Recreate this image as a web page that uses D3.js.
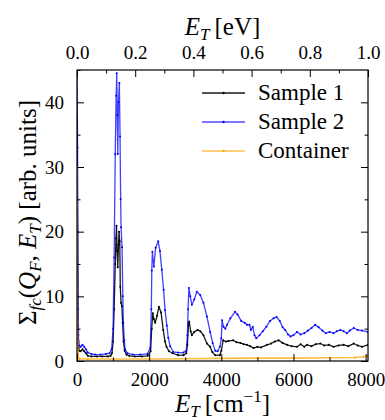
<!DOCTYPE html>
<html>
<head>
<meta charset="utf-8">
<script src="https://cdn.jsdelivr.net/npm/d3@7"></script>
</head>
<body style="margin:0">
<svg id="chart" width="385" height="420" font-family="Liberation Serif" style="display:block;background:#fff">
</svg>
<script>
// values: [E_T in cm^-1, signal]
const sample1 = [
  [0, 38], [8, 30], [15, 20], [25, 10], [35, 4], [45, 2], [60, 1.6], [100, 1.5],
  [150, 1.8], [200, 1.5], [250, 1.2], [300, 0.8], [400, 0.7], [550, 0.7], [700, 0.7],
  [850, 0.7], [930, 0.8], [970, 1.2], [1000, 3], [1030, 8], [1060, 15], [1080, 19],
  [1095, 20.9], [1110, 17], [1130, 14.5], [1150, 18], [1165, 20], [1185, 18.5],
  [1200, 11.5], [1221, 9], [1245, 8.5], [1265, 5.9], [1290, 3], [1320, 1.6],
  [1370, 1.0], [1450, 0.8], [1600, 0.7], [1800, 0.7], [1960, 0.8], [2040, 1.5],
  [2070, 5], [2100, 7.4], [2130, 6.5], [2165, 5.9], [2220, 7.0], [2270, 8.4],
  [2330, 7.5], [2390, 4.8], [2440, 3.0], [2480, 2.2], [2550, 1.5], [2650, 1.2],
  [2800, 0.9], [2950, 0.9], [3030, 1.2], [3060, 2.5], [3090, 5.8], [3110, 6.1],
  [3150, 4.6], [3183, 4.0], [3250, 4.5], [3340, 4.8], [3420, 4.6], [3505, 4.0],
  [3600, 2.7], [3690, 2.2], [3750, 1.4], [3830, 0.9], [3960, 0.9], [4000, 1.6],
  [4050, 3.2], [4130, 3.0], [4200, 3.1], [4330, 3.2], [4420, 2.9], [4530, 2.8],
  [4620, 2.6], [4710, 2.5], [4800, 2.3], [4890, 2.0], [5000, 2.2], [5100, 2.1],
  [5265, 2.5], [5380, 2.7], [5480, 3.0], [5587, 3.2], [5700, 2.8], [5820, 2.5],
  [5950, 2.3], [6098, 2.2], [6200, 2.6], [6300, 2.2], [6375, 2.5], [6500, 2.3],
  [6620, 2.6], [6745, 2.7], [6850, 2.4], [6980, 2.5], [7113, 2.2], [7250, 2.4],
  [7390, 2.5], [7520, 2.3], [7670, 2.7], [7780, 2.4], [7900, 2.2], [8060, 2.5],
];

const sample2 = [
  [0, 46], [8, 40], [15, 33], [25, 20], [35, 8], [45, 3], [60, 2.4], [100, 2.2],
  [150, 2.5], [200, 2.2], [250, 1.8], [300, 1.3], [400, 1.1], [500, 1.0], [650, 1.0],
  [800, 1.1], [900, 1.2], [960, 1.8], [1000, 5], [1030, 16], [1060, 32], [1085, 41],
  [1102, 44.5], [1115, 38], [1130, 32], [1150, 40], [1174, 43], [1193, 34.7],
  [1210, 25], [1221, 20.7], [1249, 17.6], [1270, 10], [1285, 5.9], [1310, 3.2],
  [1332, 1.8], [1400, 1.2], [1550, 1.0], [1750, 1.0], [1950, 1.1], [2030, 2],
  [2060, 8], [2073, 14], [2090, 16.9], [2130, 14.6], [2180, 17.5], [2250, 18.5],
  [2300, 17], [2350, 14.1], [2400, 11], [2440, 7.9], [2490, 5.5], [2530, 3.6],
  [2580, 2.3], [2670, 1.4], [2800, 1.3], [2950, 1.3], [3030, 1.6], [3060, 4],
  [3080, 8], [3100, 11.3], [3140, 10], [3183, 8.7], [3250, 9.5], [3320, 10.7],
  [3414, 10.2], [3505, 9.0], [3600, 6.9], [3690, 4.5], [3760, 2.8], [3830, 1.6],
  [3900, 1.5], [3960, 2.2], [4000, 3.5], [4020, 6.3], [4060, 5.3], [4110, 5.0],
  [4160, 5.6], [4250, 6.6], [4380, 7.6], [4450, 7.2], [4550, 6.2], [4650, 5.9],
  [4710, 5.6], [4780, 5.6], [4820, 4.8], [4870, 5.3], [4920, 4.0], [4970, 3.5],
  [5060, 4.0], [5150, 4.6], [5250, 5.3], [5350, 6.2], [5450, 6.6], [5530, 6.8],
  [5620, 6.2], [5700, 5.2], [5770, 4.8], [5850, 4.1], [5920, 3.8], [6000, 4.0],
  [6098, 4.5], [6200, 4.1], [6300, 4.3], [6400, 4.7], [6500, 5.1], [6600, 5.6],
  [6700, 5.2], [6800, 4.7], [6900, 4.3], [7000, 4.5], [7113, 4.3], [7200, 4.6],
  [7300, 4.8], [7390, 4.6], [7480, 4.3], [7560, 4.7], [7670, 5.1], [7780, 4.8],
  [7900, 4.7], [8060, 4.5],
];

const container = [
  [0, 30], [3, 24], [6, 17], [10, 11], [14, 6], [20, 3], [28, 1.2], [40, 0.5],
  [70, 0.3], [300, 0.3], [1000, 0.3], [2000, 0.3], [3000, 0.35], [4000, 0.4],
  [5000, 0.45], [6000, 0.45], [7000, 0.5], [7700, 0.55], [7950, 0.65], [8060, 0.8],
];

const seriesNames = ['Sample 1', 'Sample 2', 'Container'];
const seriesColors = ['#000000', '#0000ff', '#ffa500'];
const seriesData = [sample1, sample2, container];

const yTicks = [0, 10, 20, 30, 40];
const xTicks = [0, 2000, 4000, 6000, 8000];
const eVTicks = [0, 0.2, 0.4, 0.6, 0.8, 1.0];

const cmPerEV = 8065.54;
const serif = '"Liberation Serif", serif';

// inline and marked important, so no outside rule wins over it
const setFont = (sel, size, italic) => {
  sel.style('font-family', serif, 'important')
      .style('font-size', `${size}px`, 'important');
  if (italic) {
    sel.style('font-style', 'italic', 'important');
  }
  return sel;
};

const plotLeft = 77;
const plotRight = 368;
const plotTop = 70;
const plotBottom = 361;

const svg = d3.select('#chart');

const x = d3.scaleLinear().domain([0, cmPerEV]).range([plotLeft, plotRight]);
const xTop = d3.scaleLinear().domain([0, 1]).range([plotLeft, plotRight]);
const y = d3.scaleLinear().domain([0, 45]).range([plotBottom, plotTop]);

// clip so the spikes at E_T = 0 stay inside the frame
svg.append('defs').append('clipPath')
    .attr('id', 'plotclip')
    .append('rect')
    .attr('x', plotLeft)
    .attr('y', plotTop)
    .attr('width', plotRight - plotLeft)
    .attr('height', plotBottom - plotTop);

const line = d3.line()
    .x((d) => x(d[0]))
    .y((d) => y(d[1]));

const plot = svg.append('g').attr('clip-path', 'url(#plotclip)');

seriesData.forEach((data, i) => {
  const g = plot.append('g');
  g.append('path')
      .datum(data)
      .attr('fill', 'none')
      .attr('stroke', seriesColors[i])
      .attr('stroke-opacity', i === 0 ? 0.9 : 0.75)
      .attr('stroke-width', i === 2 ? 1.6 : 1.3)
      .attr('stroke-linejoin', 'round')
      .attr('d', line);
  g.selectAll('circle')
      .data(data)
      .join('circle')
      .attr('cx', (d) => x(d[0]))
      .attr('cy', (d) => y(d[1]))
      .attr('r', 1)
      .attr('fill', seriesColors[i]);
});

// axes, ticks pointing inward
const addAxis = (axis, tx, ty, cls) => {
  const g = svg.append('g')
      .attr('class', cls)
      .attr('transform', `translate(${tx},${ty})`)
      .call(axis);
  g.attr('font-family', 'Liberation Serif').attr('font-size', 19);
  g.select('.domain').remove();
  g.selectAll('line').attr('stroke', '#000').attr('stroke-width', 1);
  setFont(g.selectAll('text'), 19).attr('fill', '#000');
  return g;
};

addAxis(d3.axisBottom(x).tickValues(xTicks).tickSizeInner(-7).tickSizeOuter(0)
    .tickPadding(10).tickFormat(d3.format('d')), 0, plotBottom, 'xb');
addAxis(d3.axisBottom(x).tickValues([1000, 3000, 5000, 7000]).tickSizeInner(-3.5)
    .tickSizeOuter(0).tickFormat(''), 0, plotBottom, 'xbm');
addAxis(d3.axisTop(xTop).tickValues(eVTicks).tickSizeInner(-7).tickSizeOuter(0)
    .tickPadding(10).tickFormat(d3.format('.1f')), 0, plotTop, 'xt');
addAxis(d3.axisTop(xTop).tickValues([0.1, 0.3, 0.5, 0.7, 0.9]).tickSizeInner(-3.5)
    .tickSizeOuter(0).tickFormat(''), 0, plotTop, 'xtm');
addAxis(d3.axisLeft(y).tickValues(yTicks).tickSizeInner(-7).tickSizeOuter(0)
    .tickPadding(13).tickFormat(d3.format('d')), plotLeft, 0, 'yl');
addAxis(d3.axisLeft(y).tickValues([5, 15, 25, 35, 45]).tickSizeInner(-3.5)
    .tickSizeOuter(0).tickFormat(''), plotLeft, 0, 'ylm');
addAxis(d3.axisRight(y).tickValues(yTicks).tickSizeInner(-7).tickSizeOuter(0)
    .tickFormat(''), plotRight, 0, 'yr');
addAxis(d3.axisRight(y).tickValues([5, 15, 25, 35]).tickSizeInner(-3.5)
    .tickSizeOuter(0).tickFormat(''), plotRight, 0, 'yrm');

svg.selectAll('.xb text, .xt text').attr('dy', null);
svg.selectAll('.xb text').attr('y', 25);
svg.selectAll('.xt text').attr('y', -11);

svg.append('rect')
    .attr('x', plotLeft)
    .attr('y', plotTop)
    .attr('width', plotRight - plotLeft)
    .attr('height', plotBottom - plotTop)
    .attr('fill', 'none')
    .attr('stroke', '#000')
    .attr('stroke-width', 1.2);

// axis labels
const eLabel = (yPos, unit, sup) => {
  const t = setFont(svg.append('text'), 25)
      .attr('x', (plotLeft + plotRight) / 2)
      .attr('y', yPos)
      .attr('text-anchor', 'middle');
  setFont(t.append('tspan'), 25, true).text('E');
  setFont(t.append('tspan'), 17, true).attr('dy', 5).text('T');
  setFont(t.append('tspan'), 25).attr('dy', -5).text(`\u2009[${unit}`);
  if (sup) {
    setFont(t.append('tspan'), 17).attr('dy', -10).text(sup);
    setFont(t.append('tspan'), 25).attr('dy', 10).text(']');
  } else {
    setFont(t.append('tspan'), 25).text(']');
  }
};
eLabel(35, 'eV', null);
eLabel(412, 'cm', '\u22121');

const yl = setFont(svg.append('text'), 25)
    .attr('transform', `translate(36,${(plotTop + plotBottom) / 2 - 3}) rotate(-90)`)
    .attr('text-anchor', 'middle');
setFont(yl.append('tspan'), 25).text('\u03A3');
setFont(yl.append('tspan'), 17, true).attr('dy', 5).text('fc');
setFont(yl.append('tspan'), 25).attr('dy', -5).text('(');
setFont(yl.append('tspan'), 25, true).text('Q');
setFont(yl.append('tspan'), 17, true).attr('dy', 5).text('F');
setFont(yl.append('tspan'), 25).attr('dy', -5).text(', ');
setFont(yl.append('tspan'), 25, true).text('E');
setFont(yl.append('tspan'), 17, true).attr('dy', 5).text('T');
setFont(yl.append('tspan'), 25).attr('dy', -5).text(') [arb. units]');

// legend
const legend = svg.append('g');
seriesNames.forEach((name, i) => {
  const ly = 93 + i * 29;
  legend.append('line')
      .attr('x1', 202)
      .attr('x2', 245)
      .attr('y1', ly)
      .attr('y2', ly)
      .attr('stroke', seriesColors[i])
      .attr('stroke-opacity', i === 0 ? 0.9 : 0.7)
      .attr('stroke-width', 1.5);
  legend.append('circle')
      .attr('cx', 223.5)
      .attr('cy', ly)
      .attr('r', 1.2)
      .attr('fill', seriesColors[i]);
  setFont(legend.append('text'), 23)
      .attr('x', 258)
      .attr('y', ly + 7)
      .text(name);
});
</script>
</body>
</html>
